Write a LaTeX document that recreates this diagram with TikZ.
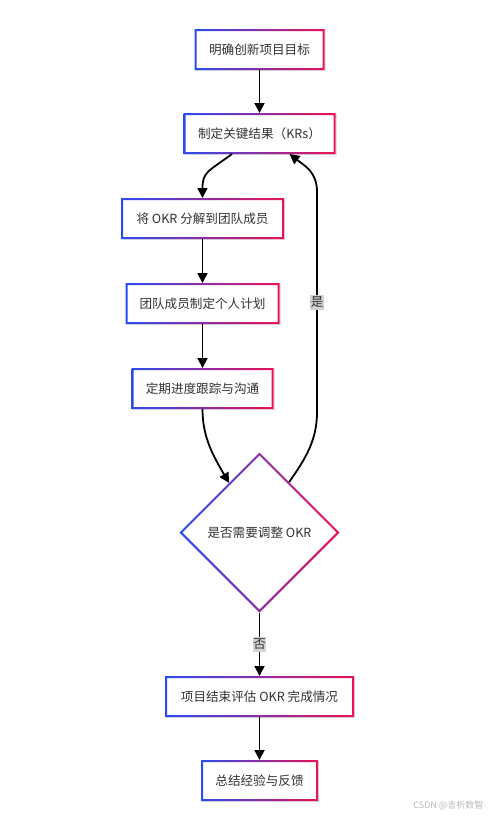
\documentclass[tikz,border=0pt]{standalone}
\usepackage{fontspec}
\setmainfont{Noto Sans CJK SC}
\usetikzlibrary{shapes.geometric,arrows.meta,calc,shadows}
\definecolor{cA}{HTML}{2A4BF2}
\definecolor{cB}{HTML}{EC1157}
\definecolor{txt}{HTML}{333333}
\definecolor{lblbg}{HTML}{D2D2D2}
\newcommand\gring[1]{\shade[left color=cA,right color=cB,even odd rule]
  (#1.south west) rectangle (#1.north east)
  ([shift={(2pt,2pt)}]#1.south west) rectangle ([shift={(-2pt,-2pt)}]#1.north east);}
\begin{document}
\begin{tikzpicture}[x=1pt,y=-1pt,
  box/.style={rectangle, fill=white, minimum height=41pt, inner sep=0pt, outer sep=0pt,
    text=txt, font=\fontsize{12.6}{15}\selectfont,
    drop shadow={shadow xshift=1pt, shadow yshift=-1pt, opacity=0.12, fill=black}},
  dia/.style={diamond, aspect=1, fill=white, minimum width=160pt, minimum height=160pt,
    inner sep=0pt, outer sep=0pt, text=txt, font=\fontsize{12.6}{15}\selectfont},
  arr/.style={line width=1.8pt, -{Triangle[length=10pt,width=10pt]}},
  lbl/.style={fill=lblbg, inner xsep=0.5pt, inner ysep=2pt, text=txt, font=\fontsize{12.5}{14}\selectfont}
]
\useasboundingbox (0,0) rectangle (494,817);
\fill[white] (0,0) rectangle (494,817);

\node[box, minimum width=130pt] (b1) at (259.5,49.5) {明确创新项目目标};
\node[box, minimum width=152pt] (b2) at (259.5,133.5) {制定关键结果（KRs）};
\node[box, minimum width=163pt] (b3) at (202.5,218.5) {将 OKR 分解到团队成员};
\node[box, minimum width=154pt] (b4) at (202.5,303.5) {团队成员制定个人计划};
\node[box, minimum width=142pt] (b5) at (202.5,388.5) {定期进度跟踪与沟通};
\node[dia] (d) at (259.5,532.5) {是否需要调整 OKR};
\node[box, minimum width=189pt] (b7) at (259.5,696.5) {项目结束评估 OKR 完成情况};
\node[box, minimum width=117pt] (b8) at (259.5,780.5) {总结经验与反馈};

\foreach \n in {b1,b2,b3,b4,b5,b7,b8}{\gring{\n}}
\shade[left color=cA,right color=cB,even odd rule]
  (d.north)--(d.east)--(d.south)--(d.west)--cycle
  ([yshift=-2.8pt]d.north)--([xshift=-2.8pt]d.east)--([yshift=2.8pt]d.south)--([xshift=2.8pt]d.west)--cycle;

\draw[arr] (b1) -- (b2);
\draw[arr] ([xshift=-27.5pt]b2.south) .. controls ([xshift=-52pt,yshift=-18pt]b2.south) and ([yshift=26pt]b3.north) .. (b3.north);
\draw[arr] (b3) -- (b4);
\draw[arr] (b4) -- (b5);
\draw[arr] (b5.south) .. controls (202.5,436) and (212,454) .. ($(d.west)!0.62!(d.north)$);
\draw[arr] ($(d.north)!0.37!(d.east)$) .. controls (306,458) and (317,440) .. (317,412)
  -- node[lbl] (ly) {是} (317,192) .. controls (317,172) and (305,166) .. ([xshift=30pt]b2.south);
\draw[arr] (d.south) -- node[lbl] (ln) {否} (b7.north);
\draw[arr] (b7) -- (b8);

\node[text=black!28, font=\fontsize{9}{10}\selectfont, anchor=east] (wm) at (487,805) {CSDN @言析数智};
\end{tikzpicture}
\end{document}
